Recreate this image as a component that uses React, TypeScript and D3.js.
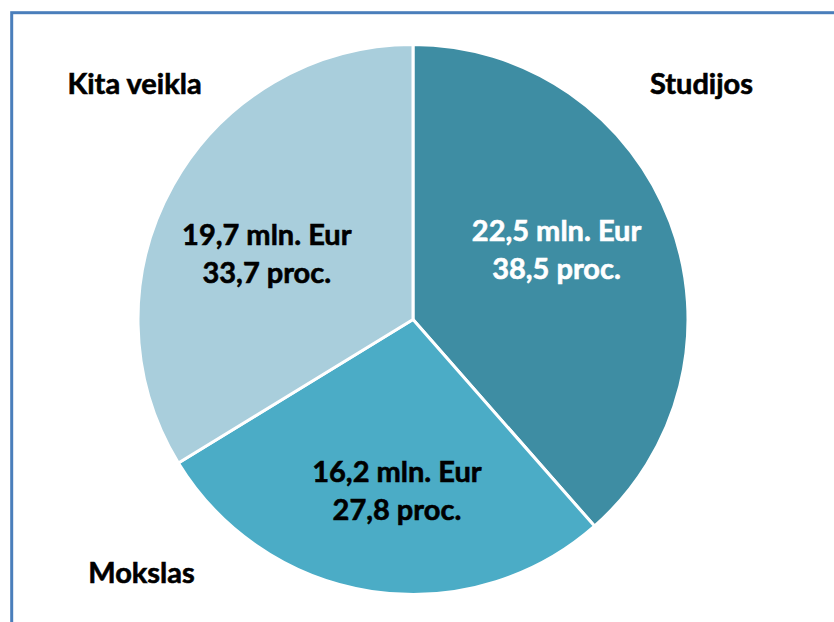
import React from "react";
import * as d3 from "d3";

const categories = ["Studijos", "Mokslas", "Kita veikla"];
const amounts = [22.5, 16.2, 19.7];
const amountLabels = ["22,5 mln. Eur", "16,2 mln. Eur", "19,7 mln. Eur"];
const percentLabels = ["38,5 proc.", "27,8 proc.", "33,7 proc."];
const colors = ["#3e8da3", "#4bacc6", "#a9cedc"];
const valueTextColors = ["#ffffff", "#000000", "#000000"];

const W = 834;
const H = 622;
const cx = 413;
const cy = 319.5;
const R = 275;
const FONT = "Lato, 'Open Sans', sans-serif";
const FS = 29;
// small layout nudges for the in-slice labels (relative to arc centroid)
const nudges: [number, number][] = [
  [-16, -18],
  [9.5, -6],
  [2.5, 9],
];
const outerPos: [number, number][] = [
  [701.5, 94],
  [141.5, 583],
  [134.5, 94],
];

export default function App() {
  const pie = d3.pie<number>().sort(null).value((d) => d)(amounts);
  const arc = d3.arc<d3.PieArcDatum<number>>().innerRadius(0).outerRadius(R);
  const labelArc = d3.arc<d3.PieArcDatum<number>>().innerRadius(R * 0.62).outerRadius(R * 0.62);
  return (
    <svg
      width={W}
      height={H}
      style={{ position: "absolute", left: 0, top: 0, background: "#fff" }}
    >
      <rect x={11.7} y={12.7} width={W + 20} height={H + 20} fill="#fff" stroke="#4a7ebb" strokeWidth={3} />
      <g transform={`translate(${cx},${cy})`}>
        {pie.map((p, i) => (
          <path key={i} d={arc(p) || ""} fill={colors[i]} stroke="#fff" strokeWidth={3} strokeLinejoin="miter" />
        ))}
        {pie.map((p, i) => {
          const [x0, y0] = labelArc.centroid(p);
          const x = x0 + nudges[i][0];
          const y = y0 + nudges[i][1];
          return (
            <text
              key={"v" + i}
              textAnchor="middle"
              fontFamily={FONT}
              fontWeight="bold"
              fontSize={FS}
              fill={valueTextColors[i]}
              stroke={valueTextColors[i]}
              strokeWidth={0.6}
            >
              <tspan x={x} y={y}>{amountLabels[i]}</tspan>
              <tspan x={x} y={y + 38}>{percentLabels[i]}</tspan>
            </text>
          );
        })}
      </g>
      {categories.map((c, i) => (
        <text
          key={"c" + i}
          x={outerPos[i][0]}
          y={outerPos[i][1]}
          textAnchor="middle"
          fontFamily={FONT}
          fontWeight="bold"
          fontSize={FS}
          fill="#000"
          stroke="#000"
          strokeWidth={0.6}
        >
          {c}
        </text>
      ))}
    </svg>
  );
}
